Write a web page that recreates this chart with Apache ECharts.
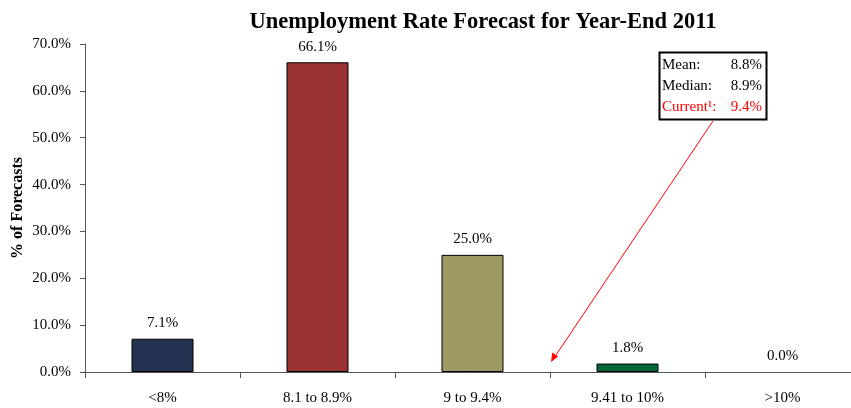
<!DOCTYPE html>
<html>
<head>
<meta charset="utf-8">
<script src="https://cdn.jsdelivr.net/npm/echarts@6/dist/echarts.min.js"></script>
<style>
  html, body { margin: 0; padding: 0; background: #fff; }
  #chart { width: 851px; height: 408px; }
</style>
</head>
<body>
<div id="chart"></div>
<script>
// Survey buckets and the share of forecasts in each
const categories = ['<8%', '8.1 to 8.9%', '9 to 9.4%', '9.41 to 10%', '>10%'];
const shares = [7.1, 66.1, 25.0, 1.8, 0.0];
const barColors = ['#233250', '#993333', '#9c9a62', '#006837', '#888888'];
const yTicks = [0, 10, 20, 30, 40, 50, 60, 70];

// Summary statistics shown in the callout box
const statLabels = ['Mean:', 'Median:', 'Current\u00b9:'];
const statValues = ['8.8%', '8.9%', '9.4%'];

const FONT = '"Liberation Serif", "Times New Roman", serif';

const chart = echarts.init(document.getElementById('chart'));

const statTexts = [];
statLabels.forEach((lab, i) => {
  const color = i === 2 ? '#ff0000' : '#000';
  statTexts.push({
    type: 'text', x: 662, y: 65 + i * 21,
    style: { text: lab, font: '15px ' + FONT, fill: color, textVerticalAlign: 'middle' }
  });
  statTexts.push({
    type: 'text', x: 762, y: 65 + i * 21,
    style: { text: statValues[i], font: '15px ' + FONT, fill: color, textAlign: 'right', textVerticalAlign: 'middle' }
  });
});

chart.setOption({
  animation: false,
  title: {
    text: 'Unemployment Rate Forecast for Year-End 2011',
    left: 478, top: 6, textAlign: 'center',
    textStyle: { fontFamily: FONT, fontSize: 22.5, fontWeight: 'bold', color: '#000' }
  },
  grid: { left: 85, top: 44, height: 328, width: 775, outerBoundsMode: 'none', containLabel: false },
  xAxis: {
    type: 'category',
    data: categories,
    axisLine: { lineStyle: { color: '#555', width: 1 } },
    axisTick: { show: true, length: 6, alignWithLabel: false, lineStyle: { color: '#555' } },
    axisLabel: { fontFamily: FONT, fontSize: 15, color: '#000', margin: 19 }
  },
  yAxis: {
    type: 'value',
    min: 0, max: 70, interval: 10,
    name: '% of Forecasts',
    nameLocation: 'middle',
    nameGap: 59,
    nameMoveOverlap: false,
    nameTextStyle: { fontFamily: FONT, fontSize: 16, fontWeight: 'bold', color: '#000' },
    axisLine: { show: true, lineStyle: { color: '#555', width: 1 } },
    axisTick: { show: true, length: 5, inside: false, lineStyle: { color: '#555' } },
    splitLine: { show: false },
    axisLabel: {
      fontFamily: FONT, fontSize: 15, color: '#000', margin: 14,
      formatter: v => yTicks.includes(v) ? v.toFixed(1) + '%' : ''
    }
  },
  series: [{
    type: 'bar',
    barWidth: '40%',
    data: shares.map((v, i) => ({
      value: v,
      itemStyle: { color: barColors[i], borderColor: '#000', borderWidth: v > 0 ? 1 : 0 }
    })),
    label: {
      show: true, position: 'top', distance: 8,
      fontFamily: FONT, fontSize: 15, color: '#000',
      formatter: p => p.value.toFixed(1) + '%'
    }
  }],
  graphic: [
    {
      type: 'rect',
      shape: { x: 659.5, y: 52.5, width: 107, height: 67 },
      style: { fill: '#fff', stroke: '#000', lineWidth: 2 }
    },
    ...statTexts,
    {
      type: 'line',
      shape: { x1: 713, y1: 121, x2: 552, y2: 361 },
      style: { stroke: '#ff0000', lineWidth: 1 }
    },
    {
      type: 'polygon',
      shape: { points: [[551, 362], [552.2, 352.5], [558.0, 356.4]] },
      style: { fill: '#ff0000' }
    }
  ]
});
</script>
</body>
</html>
